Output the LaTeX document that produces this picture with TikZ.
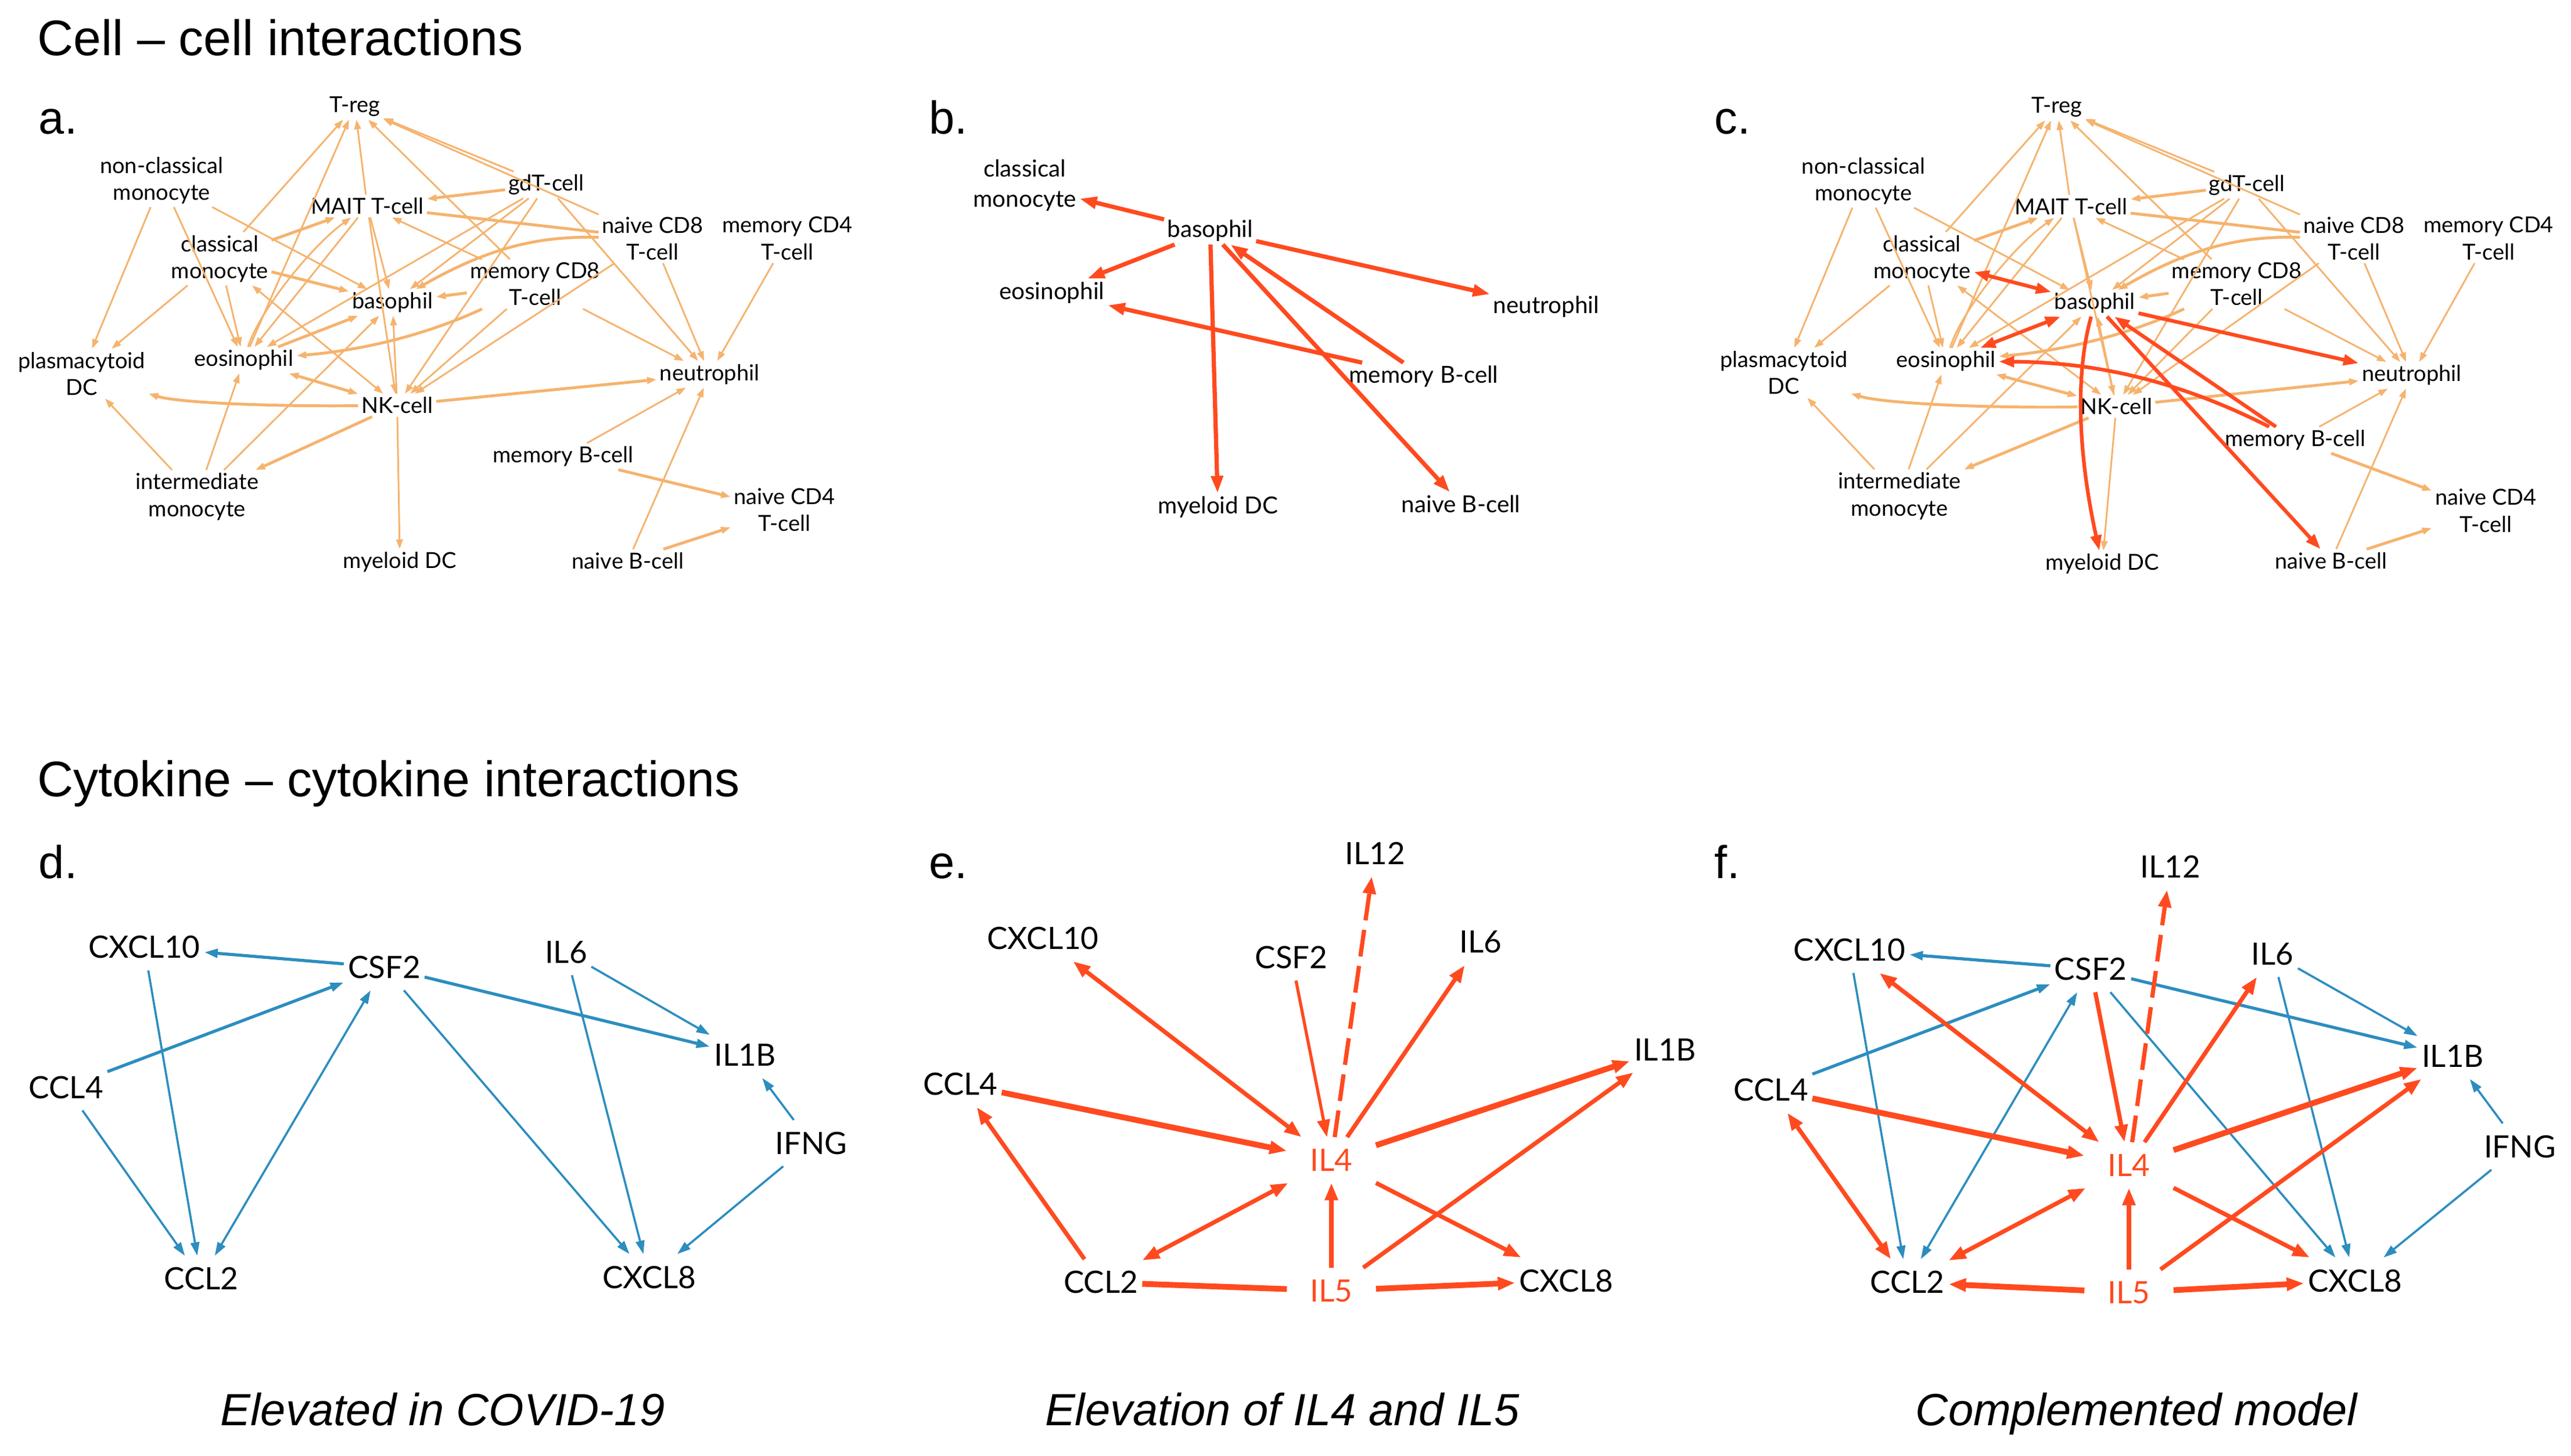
\documentclass[tikz,border=0pt]{standalone}
\usepackage{fontspec}
\setmainfont{Liberation Sans}
\newfontfamily\labfont{Lato}
\usepackage{tikz}
\usetikzlibrary{arrows.meta}
\usepackage[rgb]{xcolor}
\definecolor{og}{HTML}{F5B36E}
\definecolor{rd}{HTML}{FF4A1F}
\definecolor{bl}{HTML}{2C8DBF}

\tikzset{
  ttl/.style={anchor=base west, inner sep=0pt, font=\fontsize{26}{31}\selectfont},
  pnl/.style={anchor=base west, inner sep=0pt, font=\fontsize{24}{29}\selectfont},
  capt/.style={anchor=base, inner sep=0pt, font=\itshape\fontsize{23.5}{28}\selectfont},
  cellnode/.style={font=\labfont\fontsize{11.5}{14}\selectfont, align=center, inner sep=1.5pt},
  bignode/.style={font=\labfont\fontsize{12.2}{15.5}\selectfont, align=center, inner sep=1.5pt},
  cyto/.style={font=\labfont\fontsize{16}{19}\selectfont, inner xsep=2pt, inner ysep=6pt},
  ilnode/.style={cyto, text=rd, inner xsep=12pt},
  oe/.style={draw=og, line width=0.9pt, -{Triangle[length=5pt,width=3.4pt]}},
  oet/.style={oe, line width=1.5pt},
  oed/.style={oet, {Triangle[length=5pt,width=3.4pt]}-{Triangle[length=5pt,width=3.4pt]}},
  rb/.style={draw=rd, line width=2.2pt, -{Triangle[length=9pt,width=6pt]}},
  rc/.style={draw=rd, line width=1.9pt, -{Triangle[length=8pt,width=5.5pt]}},
  rcd/.style={rc, {Triangle[length=8pt,width=5.5pt]}-{Triangle[length=8pt,width=5.5pt]}},
  be/.style={draw=bl, line width=1.1pt, -{Triangle[length=7pt,width=4.5pt]}},
  bet/.style={be, line width=1.6pt},
  bed/.style={be, {Triangle[length=7pt,width=4.5pt]}-{Triangle[length=7pt,width=4.5pt]}},
  re/.style={draw=rd, line width=2.2pt, -{Triangle[length=9pt,width=6.5pt]}},
  ret/.style={re, line width=3pt},
  ren/.style={re, line width=1.6pt},
  red/.style={re, {Triangle[length=9pt,width=6.5pt]}-{Triangle[length=9pt,width=6.5pt]}},
}

\begin{document}
\begin{tikzpicture}[x=0.03cm, y=-0.03cm]
  \useasboundingbox (0,0) rectangle (1568,887.8);

  \node[ttl] (ttlcell) at (22.5,33.7) {Cell \textendash{} cell interactions};
  \node[ttl] (ttlcyto) at (22.5,486) {Cytokine \textendash{} cytokine interactions};
  \node[pnl] (pa) at (23.5,81.5) {a.};
  \node[pnl] (pb) at (566.5,81.5) {b.};
  \node[pnl] (pc) at (1045.5,81.5) {c.};
  \node[pnl] (pd) at (23.5,536) {d.};
  \node[pnl] (pe) at (566.5,536) {e.};
  \node[pnl] (pf) at (1045.5,536) {f.};
  \node[capt] (capd) at (270,869.4) {Elevated in COVID-19};
  \node[capt] (cape) at (782,869.4) {Elevation of IL4 and IL5};
  \node[capt] (capf) at (1303,869.4) {Complemented model};

  % a.
  \node[cellnode] (atreg) at (216.4,64.9) {T-reg};
  \node[cellnode] (ancm)  at (98.6,110)   {non-classical\\monocyte};
  \node[cellnode] (amait) at (224,125.6)  {MAIT T-cell};
  \node[cellnode] (agdt)  at (333.2,112.8) {gdT-cell};
  \node[cellnode] (ancd8) at (398,145.4)  {naive CD8\\T-cell};
  \node[cellnode] (amcd4) at (480.2,145.4) {memory CD4\\T-cell};
  \node[cellnode] (acm)   at (134,157.8)  {classical\\monocyte};
  \node[cellnode] (amcd8) at (326.3,173.3) {memory CD8\\T-cell};
  \node[cellnode] (abaso) at (239.4,184.5) {basophil};
  \node[cellnode] (apdc)  at (49.8,227.9) {plasmacytoid\\DC};
  \node[cellnode] (aeos)  at (148.7,219.7) {eosinophil};
  \node[cellnode] (aneut) at (432.8,228.3) {neutrophil};
  \node[cellnode] (ank)   at (242.2,247.2) {NK-cell};
  \node[cellnode] (ambc)  at (343.5,278.4) {memory B-cell};
  \node[cellnode] (aim)   at (120.2,303)  {intermediate\\monocyte};
  \node[cellnode] (ancd4) at (478.5,311)  {naive CD4\\T-cell};
  \node[cellnode] (amdc)  at (243.9,343)  {myeloid DC};
  \node[cellnode] (anbc)  at (383,342)    {naive B-cell};

  \draw[oe] (acm) -- (atreg);
  \draw[oe] (aeos) -- (atreg);
  \draw[oe] (amait) -- (atreg);
  \draw[oe] (amcd8) -- (atreg);
  \draw[oe] (ancd8) -- (atreg);
  \draw[oe] (agdt) -- (atreg);
  \draw[oet] (agdt) -- (amait);
  \draw[oet, -] (ancd8) -- (amait);
  \draw[oe] (amcd8) -- (amait);
  \draw[oet] (acm) -- (amait);
  \draw[oe] (aeos) .. controls (158,190) and (190,150) .. (amait);
  \draw[oe] (ancm) -- (abaso);
  \draw[oet] (acm) -- (abaso);
  \draw[oe] (amait) -- (abaso);
  \draw[oe] (agdt) -- (abaso);
  \draw[oet] (ancd8) .. controls (330,144) and (300,150) .. (abaso);
  \draw[oet] (amcd8) -- (abaso);
  \draw[oet] (aeos) -- (abaso);
  \draw[oe] (aim) -- (abaso);
  \draw[oe] (ank) -- (abaso);
  \draw[oe] (ancm) -- (aeos);
  \draw[oe] (acm) -- (aeos);
  \draw[oe] (amait) -- (aeos);
  \draw[oe] (agdt) -- (aeos);
  \draw[oet] (amcd8) .. controls (280,195) and (240,212) .. (aeos);
  \draw[oed] (aeos) -- (ank);
  \draw[oe] (aim) -- (aeos);
  \draw[oe] (ancm) -- (apdc);
  \draw[oe] (acm) -- (apdc);
  \draw[oet] (ank) .. controls (170,248) and (110,246) .. (apdc);
  \draw[oe] (aim) -- (apdc);
  \draw[oe, {Triangle[length=5pt,width=3.4pt]}-{Triangle[length=5pt,width=3.4pt]}] (acm) -- (ank);
  \draw[oe] (amait) -- (ank);
  \draw[oe] (agdt) -- (ank);
  \draw[oe] (amcd8) -- (ank);
  \draw[oe] (ancd8) -- (ank);
  \draw[oet] (ank) -- (aneut);
  \draw[oet] (ank) -- (aim);
  \draw[oe] (ank) -- (amdc);
  \draw[oe] (agdt) -- (aneut);
  \draw[oe] (amcd8) -- (aneut);
  \draw[oe] (ancd8) -- (aneut);
  \draw[oe] (amcd4) -- (aneut);
  \draw[oe] (ambc) -- (aneut);
  \draw[oe] (anbc) -- (aneut);
  \draw[oet] (ambc) -- (ancd4);
  \draw[oet] (anbc) -- (ancd4);

  % b.
  \node[bignode] (bcm)   at (625,113)     {classical\\monocyte};
  \node[bignode] (bbaso) at (738,140.7)   {basophil};
  \node[bignode] (beos)  at (641.5,178.5) {eosinophil};
  \node[bignode] (bneut) at (943,187.2)   {neutrophil};
  \node[bignode] (bmbc)  at (868.3,229.7) {memory B-cell};
  \node[bignode] (bmdc)  at (742.8,309.3) {myeloid DC};
  \node[bignode] (bnbc)  at (891,307.5)   {naive B-cell};

  \draw[rb] (bbaso) -- (bcm);
  \draw[rb] (bbaso) -- (beos);
  \draw[rb] (bbaso) -- (bneut);
  \draw[rb] (bbaso) -- (bmdc);
  \draw[rb] (bbaso) -- (bnbc);
  \draw[rb] (bmbc) -- (bbaso);
  \draw[rb] (bmbc) -- (beos);

  % c.
  \node[cellnode] (ctreg) at (1254.4,65.4) {T-reg};
  \node[cellnode] (cncm)  at (1136.5,110.4) {non-classical\\monocyte};
  \node[cellnode] (cmait) at (1263,125.9)  {MAIT T-cell};
  \node[cellnode] (cgdt)  at (1370.4,113)  {gdT-cell};
  \node[cellnode] (cncd8) at (1435.6,145.4) {naive CD8\\T-cell};
  \node[cellnode] (cmcd4) at (1517.7,145.4) {memory CD4\\T-cell};
  \node[cellnode] (ccm)   at (1172.2,157.8) {classical\\monocyte};
  \node[cellnode] (cmcd8) at (1364.2,173.3) {memory CD8\\T-cell};
  \node[cellnode] (cbaso) at (1277.6,185)  {basophil};
  \node[cellnode] (cpdc)  at (1088,227.4)  {plasmacytoid\\DC};
  \node[cellnode] (ceos)  at (1186.8,220.3) {eosinophil};
  \node[cellnode] (cneut) at (1470.9,228.9) {neutrophil};
  \node[cellnode] (cnk)   at (1290.7,247.9) {NK-cell};
  \node[cellnode] (cmbc)  at (1399.9,268.4) {memory B-cell};
  \node[cellnode] (cim)   at (1158.4,302.6) {intermediate\\monocyte};
  \node[cellnode] (cncd4) at (1516,311.5)  {naive CD4\\T-cell};
  \node[cellnode] (cmdc)  at (1282.1,344)  {myeloid DC};
  \node[cellnode] (cnbc)  at (1421.7,342)  {naive B-cell};

  \draw[oe] (ccm) -- (ctreg);
  \draw[oe] (ceos) -- (ctreg);
  \draw[oe] (cmait) -- (ctreg);
  \draw[oe] (cmcd8) -- (ctreg);
  \draw[oe] (cncd8) -- (ctreg);
  \draw[oe] (cgdt) -- (ctreg);
  \draw[oet] (cgdt) -- (cmait);
  \draw[oet, -] (cncd8) -- (cmait);
  \draw[oe] (cmcd8) -- (cmait);
  \draw[oet] (ccm) -- (cmait);
  \draw[oe] (ceos) .. controls (1196,190) and (1228,150) .. (cmait);
  \draw[oe] (cncm) -- (cbaso);
  \draw[oe] (cmait) -- (cbaso);
  \draw[oe] (cgdt) -- (cbaso);
  \draw[oet] (cncd8) .. controls (1368,144) and (1338,150) .. (cbaso);
  \draw[oet] (cmcd8) -- (cbaso);
  \draw[oe] (cim) -- (cbaso);
  \draw[oe] (cnk) -- (cbaso);
  \draw[oe] (cncm) -- (ceos);
  \draw[oe] (ccm) -- (ceos);
  \draw[oe] (cmait) -- (ceos);
  \draw[oe] (cgdt) -- (ceos);
  \draw[oet] (cmcd8) .. controls (1318,195) and (1278,212) .. (ceos);
  \draw[oed] (ceos) -- (cnk);
  \draw[oe] (cim) -- (ceos);
  \draw[oe] (cncm) -- (cpdc);
  \draw[oe] (ccm) -- (cpdc);
  \draw[oet] (cnk) .. controls (1208,249) and (1148,246) .. (cpdc);
  \draw[oe] (cim) -- (cpdc);
  \draw[oe, {Triangle[length=5pt,width=3.4pt]}-{Triangle[length=5pt,width=3.4pt]}] (ccm) -- (cnk);
  \draw[oe] (cmait) -- (cnk);
  \draw[oe] (cgdt) -- (cnk);
  \draw[oe] (cmcd8) -- (cnk);
  \draw[oe] (cncd8) -- (cnk);
  \draw[oet] (cnk) -- (cneut);
  \draw[oet] (cnk) -- (cim);
  \draw[oe] (cnk) -- (cmdc);
  \draw[oe] (cgdt) -- (cneut);
  \draw[oe] (cmcd8) -- (cneut);
  \draw[oe] (cncd8) -- (cneut);
  \draw[oe] (cmcd4) -- (cneut);
  \draw[oe] (cmbc) -- (cneut);
  \draw[oe] (cnbc) -- (cneut);
  \draw[oet] (cmbc) -- (cncd4);
  \draw[oet] (cnbc) -- (cncd4);

  \draw[rcd] (ccm) -- (cbaso);
  \draw[rcd] (cbaso) -- (ceos);
  \draw[rc] (cbaso) -- (cneut);
  \draw[rc] (cmbc) -- (cbaso);
  \draw[rc] (cmbc) .. controls (1330,233) and (1280,221) .. (ceos);
  \draw[rc] (cbaso) -- (cnbc);
  \draw[rc] (cbaso) .. controls (1265,230) and (1268,280) .. (cmdc);

  % d.
  \node[cyto] (dcxcl10) at (88,577.8)   {CXCL10};
  \node[cyto] (dcsf2)   at (234.3,590)  {CSF2};
  \node[cyto] (dil6)    at (345.2,580.8) {IL6};
  \node[cyto] (dil1b)   at (454.4,643.6) {IL1B};
  \node[cyto] (dccl4)   at (40.3,663.2) {CCL4};
  \node[cyto] (difng)   at (494.7,697.3) {IFNG};
  \node[cyto] (dccl2)   at (122.7,780.1) {CCL2};
  \node[cyto] (dcxcl8)  at (396,779.1)  {CXCL8};

  \draw[bet] (dcsf2) -- (dcxcl10);
  \draw[be] (dcxcl10) -- (dccl2);
  \draw[bet] (dccl4) -- (dcsf2);
  \draw[be] (dccl4) -- (dccl2);
  \draw[bed] (dccl2) -- (dcsf2);
  \draw[bet] (dcsf2) -- (dil1b);
  \draw[be] (dcsf2) -- (dcxcl8);
  \draw[be] (dil6) -- (dil1b);
  \draw[be] (dil6) -- (dcxcl8);
  \draw[be] (difng) -- (dil1b);
  \draw[be] (difng) -- (dcxcl8);

  % e.
  \node[cyto]   (eil12)   at (838.6,520.6) {IL12};
  \node[cyto]   (ecxcl10) at (636.1,572.3) {CXCL10};
  \node[cyto]   (ecsf2)   at (787.6,584)   {CSF2};
  \node[cyto]   (eil6)    at (902.9,574.7) {IL6};
  \node[cyto]   (eil1b)   at (1015.5,640.2) {IL1B};
  \node[cyto]   (eccl4)   at (585.7,661.2) {CCL4};
  \node[ilnode] (eil4)    at (812,707.6)   {IL4};
  \node[cyto]   (eccl2)   at (671.4,782.2) {CCL2};
  \node[ilnode] (eil5)    at (812,787.3)   {IL5};
  \node[cyto]   (ecxcl8)  at (955.2,781.2) {CXCL8};

  \draw[red] (ecxcl10) -- (eil4);
  \draw[ren] (ecsf2) -- (eil4);
  \draw[re, dash pattern=on 14pt off 5pt] (eil4) -- (eil12);
  \draw[re] (eil4) -- (eil6);
  \draw[ret] (eil4) -- (eil1b);
  \draw[ret] (eccl4) -- (eil4);
  \draw[re] (eccl2) -- (eccl4);
  \draw[red] (eil4) -- (eccl2);
  \draw[re] (eil4) -- (ecxcl8);
  \draw[re] (eil5) -- (eil4);
  \draw[re] (eil5) -- (eil1b);
  \draw[ret] (eil5) -- (ecxcl8);
  \draw[ret, -] (eil5) -- (eccl2);

  % f.
  \node[cyto]   (fil12)   at (1323.6,528.8) {IL12};
  \node[cyto]   (fcxcl10) at (1127.9,579.4) {CXCL10};
  \node[cyto]   (fcsf2)   at (1275.1,591.1) {CSF2};
  \node[cyto]   (fil6)    at (1386,581.9)   {IL6};
  \node[cyto]   (fil1b)   at (1495.9,644.2) {IL1B};
  \node[cyto]   (fccl4)   at (1080.1,664.7) {CCL4};
  \node[cyto]   (fifng)   at (1536.8,699.4) {IFNG};
  \node[ilnode] (fil4)    at (1298.4,710.7) {IL4};
  \node[cyto]   (fccl2)   at (1163.2,782.2) {CCL2};
  \node[ilnode] (fil5)    at (1298.4,788.4) {IL5};
  \node[cyto]   (fcxcl8)  at (1436.3,781.2) {CXCL8};

  \draw[bet] (fcsf2) -- (fcxcl10);
  \draw[be] (fcxcl10) -- (fccl2);
  \draw[bet] (fccl4) -- (fcsf2);
  \draw[bed] (fccl2) -- (fcsf2);
  \draw[bet] (fcsf2) -- (fil1b);
  \draw[be] (fcsf2) -- (fcxcl8);
  \draw[be] (fil6) -- (fil1b);
  \draw[be] (fil6) -- (fcxcl8);
  \draw[be] (fifng) -- (fil1b);
  \draw[be] (fifng) -- (fcxcl8);

  \draw[red] (fcxcl10) -- (fil4);
  \draw[re] (fcsf2) -- (fil4);
  \draw[re, dash pattern=on 14pt off 5pt] (fil4) -- (fil12);
  \draw[re] (fil4) -- (fil6);
  \draw[ret] (fil4) -- (fil1b);
  \draw[ret] (fccl4) -- (fil4);
  \draw[red] (fccl2) -- (fccl4);
  \draw[red] (fil4) -- (fccl2);
  \draw[re] (fil4) -- (fcxcl8);
  \draw[re] (fil5) -- (fil4);
  \draw[re] (fil5) -- (fil1b);
  \draw[ret] (fil5) -- (fcxcl8);
  \draw[ret] (fil5) -- (fccl2);
\end{tikzpicture}
\end{document}
